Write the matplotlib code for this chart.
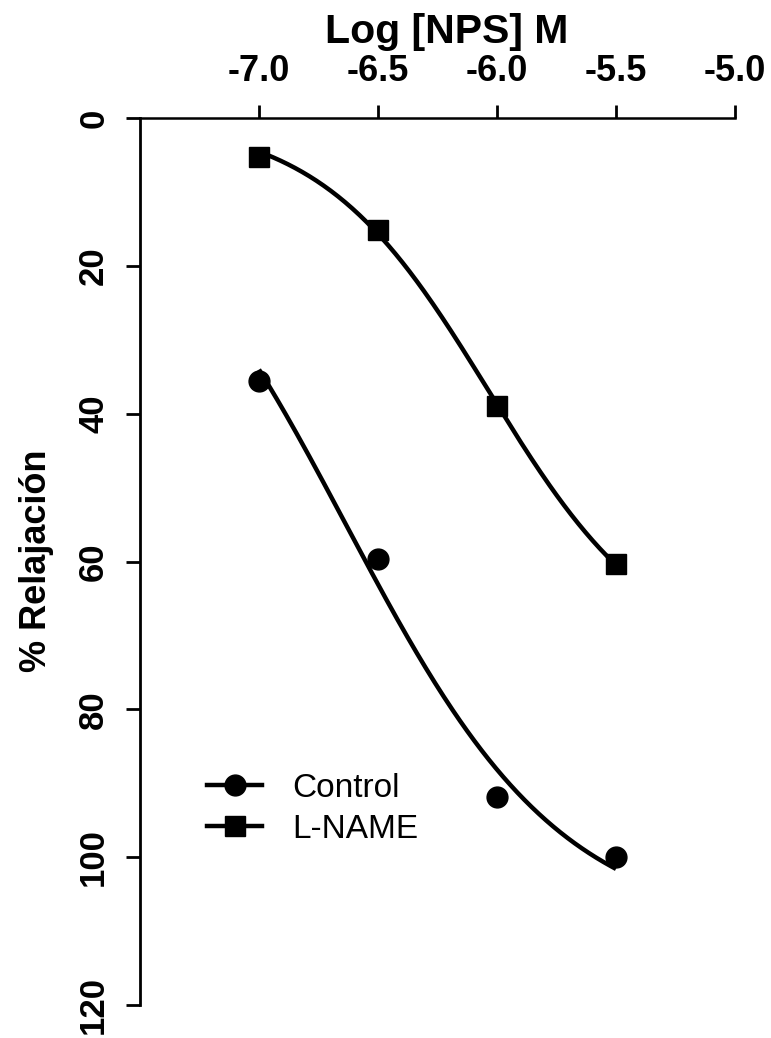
import numpy as np
import matplotlib
matplotlib.use("Agg")
import matplotlib.pyplot as plt

# log concentration of NPS (M) and % relaxation for each group
log_conc = [-7.0, -6.5, -6.0, -5.5]
control = [35.6, 59.7, 91.8, 100.0]
l_name = [5.3, 15.1, 39.0, 60.4]

x_ticks = [-7.0, -6.5, -6.0, -5.5, -5.0]
y_ticks = [0, 20, 40, 60, 80, 100, 120]

W, H = 771, 1038


def fit_hill(x, y):
    # sigmoid with bottom fixed at 0: top / (1 + 10**((ec50 - x) * h))
    x = np.asarray(x)
    y = np.asarray(y)
    ec50 = np.linspace(-8.5, -4.5, 801)[:, None, None]
    h = np.linspace(0.2, 3.0, 561)[None, :, None]
    f = 1.0 / (1.0 + 10 ** ((ec50 - x) * h))
    top = (f * y).sum(-1) / (f * f).sum(-1)
    err = ((top[..., None] * f - y) ** 2).sum(-1)
    i, j = np.unravel_index(np.argmin(err), err.shape)
    return top[i, j], ec50[i, 0, 0], h[0, j, 0]


def hill(x, top, ec50, h):
    return top / (1.0 + 10 ** ((ec50 - x) * h))


def main():
    plt.rcParams["font.family"] = ["Liberation Sans", "DejaVu Sans"]
    fig = plt.figure(figsize=(W / 100, H / 100), dpi=100)
    ax = fig.add_axes([140 / W, 1 - 1005 / H, 595 / W, 887 / H])

    xs = np.linspace(log_conc[0], log_conc[-1], 200)
    for vals, marker, label in [(control, "o", "Control"), (l_name, "s", "L-NAME")]:
        p = fit_hill(log_conc, vals)
        ax.plot(xs, hill(xs, *p), color="black", lw=3.2, solid_capstyle="butt")
        ax.plot(log_conc, vals, ls="none", marker=marker, ms=15, color="black")
        # legend handle: line plus marker
        ax.plot([], [], color="black", lw=3.2, marker=marker, ms=15, label=label)

    ax.set_xlim(-7.5, -5.0)
    ax.set_ylim(120, 0)
    ax.set_xticks(x_ticks)
    ax.set_xticklabels([f"{v:.1f}" for v in x_ticks])
    ax.set_yticks(y_ticks)

    for side in ["right", "bottom"]:
        ax.spines[side].set_visible(False)
    ax.spines["left"].set_linewidth(2)
    ax.spines["top"].set_linewidth(1.8)

    ax.xaxis.set_ticks_position("top")
    ax.tick_params(axis="x", direction="out", length=9.5, width=2, pad=11.5,
                   labelsize=26)
    ax.tick_params(axis="y", direction="out", length=10, width=2, pad=11.5,
                   labelsize=25)
    for t in ax.get_xticklabels() + ax.get_yticklabels():
        t.set_fontweight("bold")
    plt.setp(ax.get_yticklabels(), rotation=90, va="center")

    fig.text(447 / W, 1 - 43 / H, "Log [NPS] M", ha="center", va="baseline",
             fontsize=29.5, fontweight="bold")
    fig.text(37 / W, 1 - 561 / H, "% Relajación", ha="center", va="center",
             rotation=90, fontsize=26, fontweight="bold")

    ax.legend(loc="center left", bbox_to_anchor=(207 / W, 1 - 809 / H),
              bbox_transform=fig.transFigure, frameon=False, fontsize=24,
              handlelength=1.65, handletextpad=0.9, labelspacing=0.3,
              borderpad=0, borderaxespad=0)

    fig.savefig("out.png", dpi=100)


if __name__ == "__main__":
    main()
